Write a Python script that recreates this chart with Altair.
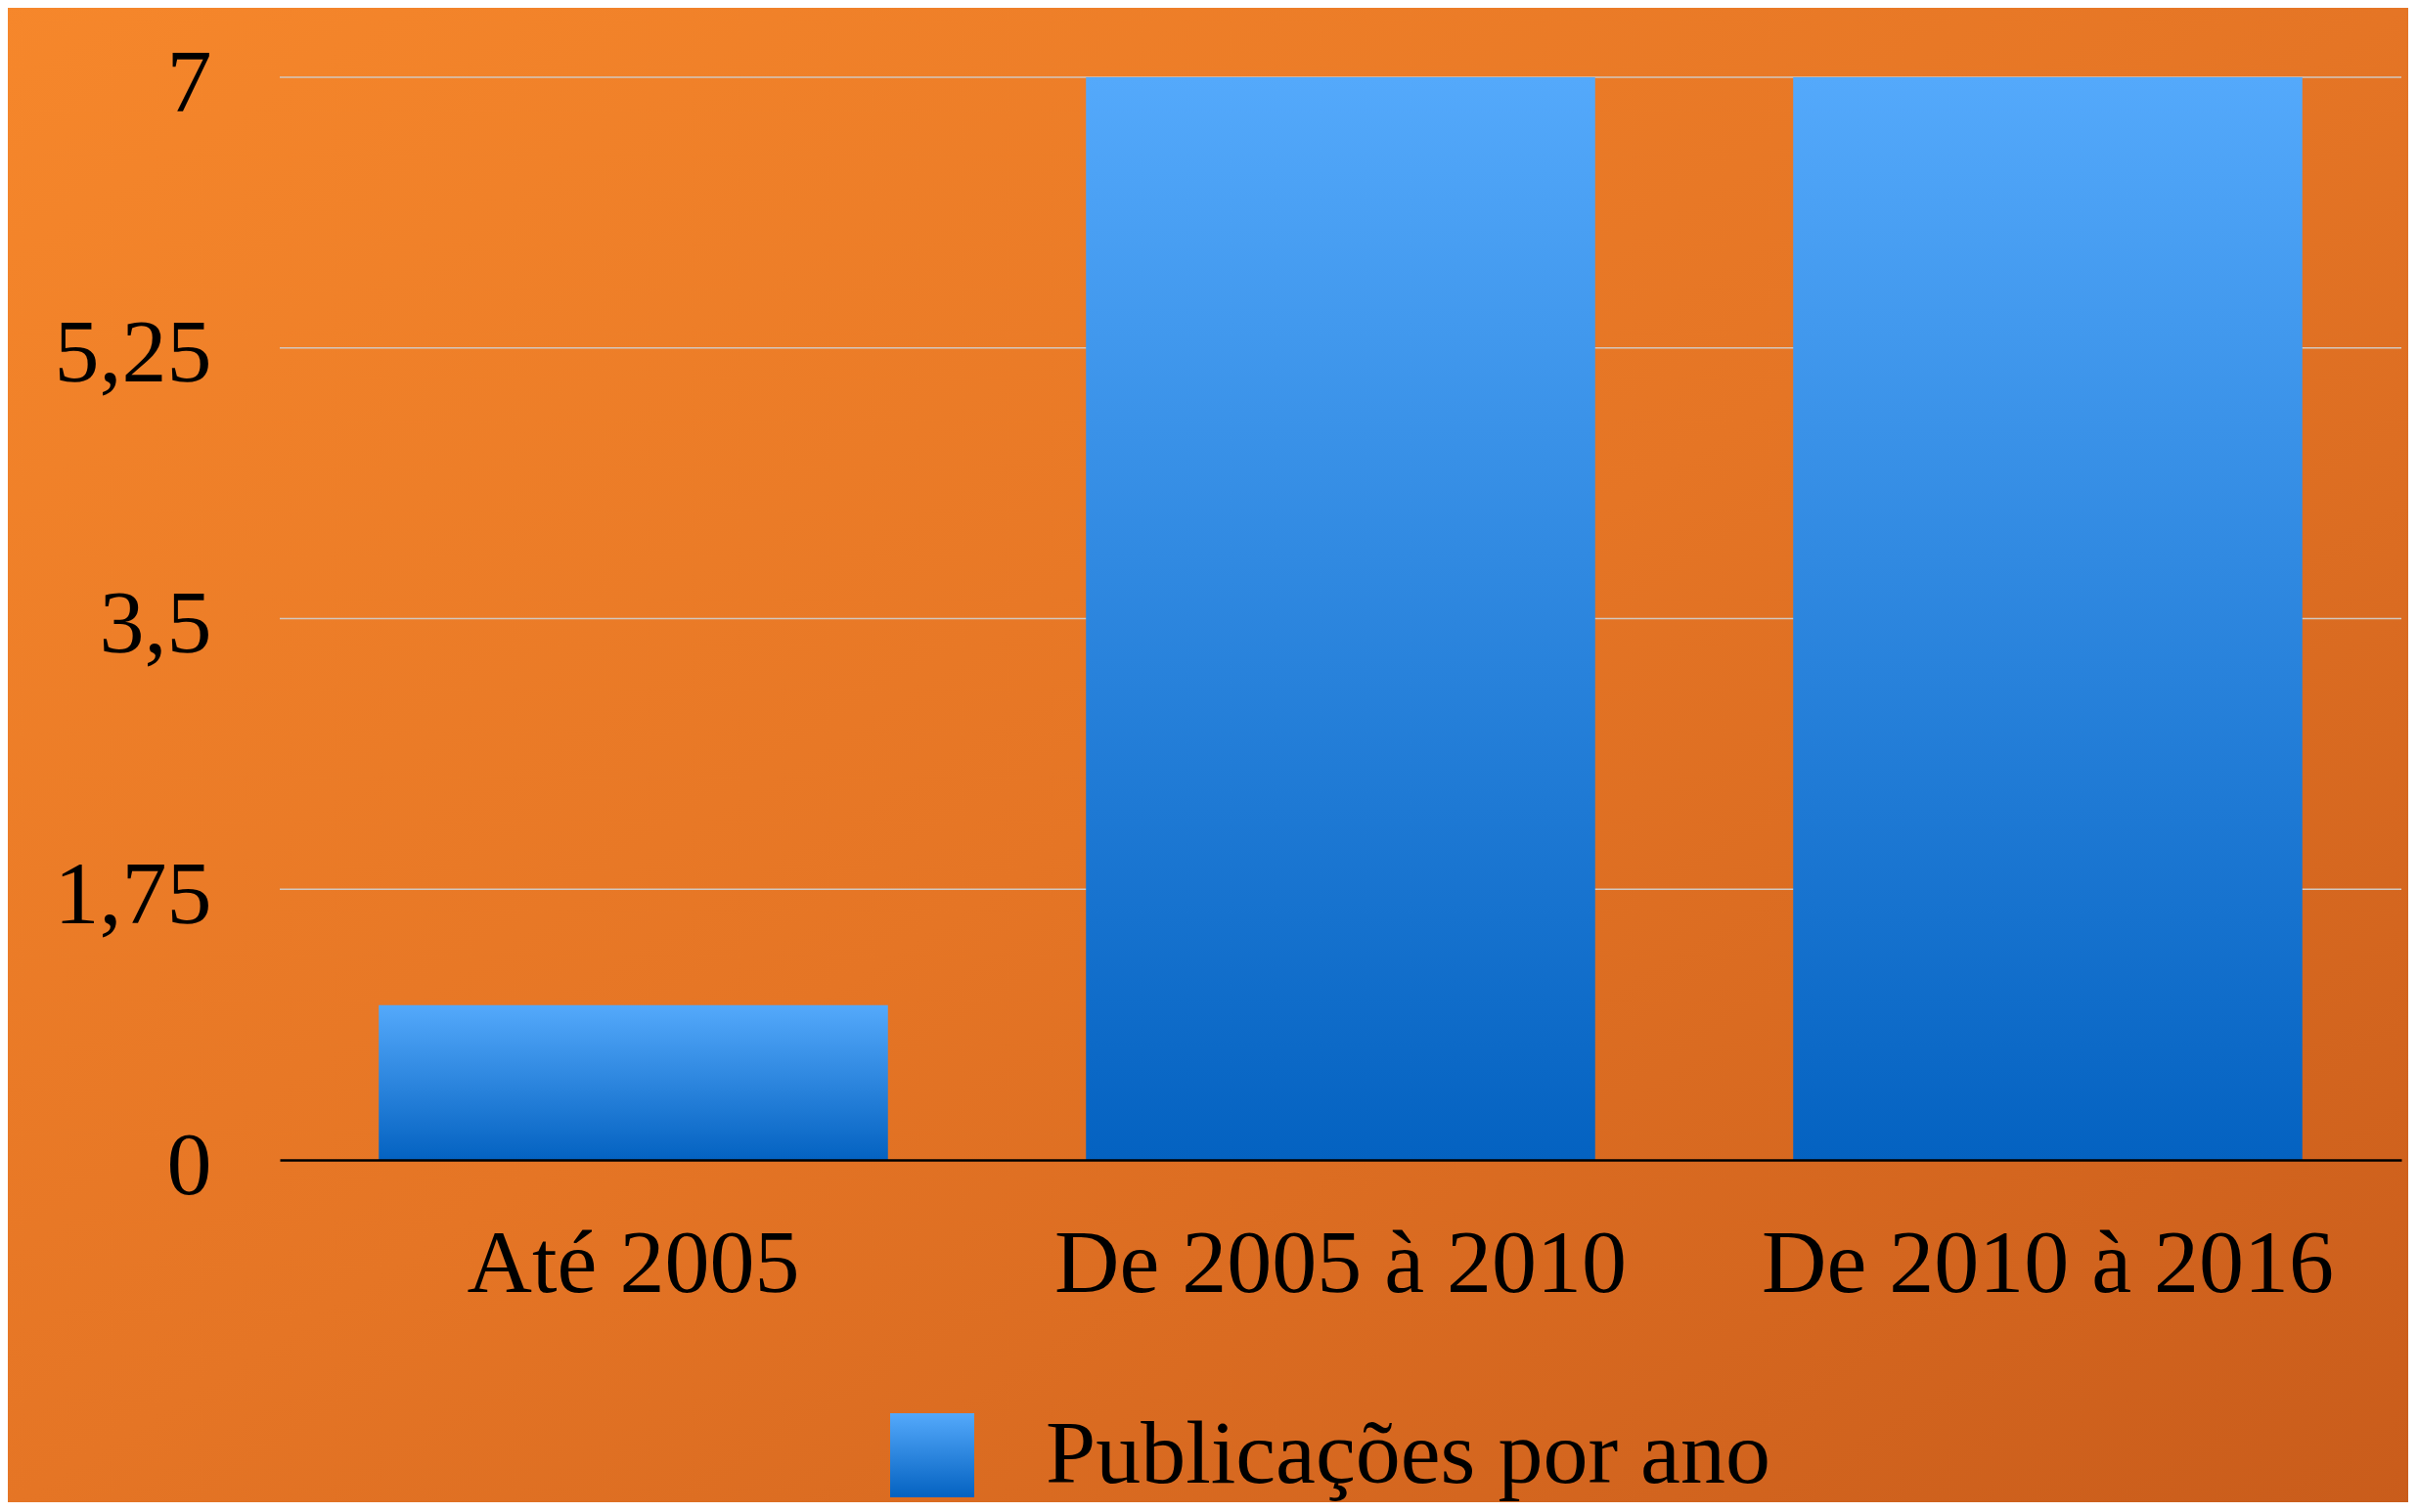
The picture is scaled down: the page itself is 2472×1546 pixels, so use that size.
import altair as alt
import pandas as pd

# ---- data ----
categories = ["Até 2005", "De 2005 à 2010", "De 2010 à 2016"]
values = [1, 7, 7]
series_name = "Publicações por ano"
y_ticks = [0, 1.75, 3.5, 5.25, 7]
grid_values = [1.75, 3.5, 5.25, 7]

bars_df = pd.DataFrame({"cat": categories, "value": values, "serie": [series_name] * len(categories)})
grid_df = pd.DataFrame({"v": grid_values})
bg_df = pd.DataFrame({"k": [0]})

FONT = "Liberation Serif"
PLOT_W, PLOT_H = 2169, 1107
PAD = {"left": 278, "top": 71, "right": 7, "bottom": 350}

bar_gradient_expr = (
    "{gradient: 'linear', x1: 0, y1: 0, x2: 0, y2: 1, "
    "stops: [{offset: 0, color: '#54A9FB'}, {offset: 1, color: '#0462C1'}]}"
)

background = alt.Chart(bg_df).mark_rect(
    fill=alt.Gradient(
        gradient="linear",
        x1=0, y1=0, x2=1, y2=1,
        stops=[
            alt.GradientStop(offset=0, color="#F6872B"),
            alt.GradientStop(offset=0.5, color="#E57525"),
            alt.GradientStop(offset=1, color="#C95C1B"),
        ],
    )
).encode(
    x=alt.value(-PAD["left"] - 10),
    x2=alt.value(PLOT_W + PAD["right"] + 10),
    y=alt.value(-PAD["top"] - 10),
    y2=alt.value(PLOT_H + PAD["bottom"] + 10),
)

y_scale = alt.Scale(domain=[0, 7], nice=False, zero=True)

grid = alt.Chart(grid_df).mark_rule(color="#D2C8C0", strokeWidth=1.5).encode(
    y=alt.Y("v:Q", scale=y_scale, title=None)
)

bars = alt.Chart(bars_df).mark_bar().encode(
    x=alt.X(
        "cat:N",
        sort=categories,
        scale=alt.Scale(paddingInner=0.28, paddingOuter=0.14),
        title=None,
        axis=alt.Axis(
            labelAngle=0,
            labelFont=FONT,
            labelFontSize=92,
            labelColor="#000000",
            labelPadding=61,
            labelLimit=3000,
            ticks=False,
            tickSize=0,
            domain=True,
            domainColor="#000000",
            domainWidth=2.5,
            grid=False,
            zindex=1,
        ),
    ),
    y=alt.Y(
        "value:Q",
        scale=y_scale,
        title=None,
        axis=alt.Axis(
            values=y_ticks,
            format=".2~f",
            labelExpr="replace(datum.label, '.', ',')",
            labelFont=FONT,
            labelFontSize=92,
            labelColor="#000000",
            labelPadding=70,
            labelOffset=6,
            ticks=False,
            tickSize=0,
            domain=False,
            grid=False,
            zindex=1,
        ),
    ),
    color=alt.Color(
        "serie:N",
        scale=alt.Scale(range=[alt.ExprRef(expr=bar_gradient_expr)]),
        legend=alt.Legend(
            title=None,
            orient="none",
            legendX=621,
            legendY=1363,
            padding=0,
            symbolType="square",
            symbolSize=7396,
            symbolStrokeWidth=0,
            labelFont=FONT,
            labelFontSize=92,
            labelColor="#000000",
            labelOffset=70,
            labelLimit=3000,
        ),
    ),
)

chart = (
    alt.layer(background, grid, bars)
    .properties(
        width=PLOT_W,
        height=PLOT_H,
        padding=PAD,
        autosize=alt.AutoSizeParams(type="none"),
        background="#E27324",
    )
    .configure_view(stroke=None)
)

chart.save("out.html", embed_options={"renderer": "svg", "actions": False})
